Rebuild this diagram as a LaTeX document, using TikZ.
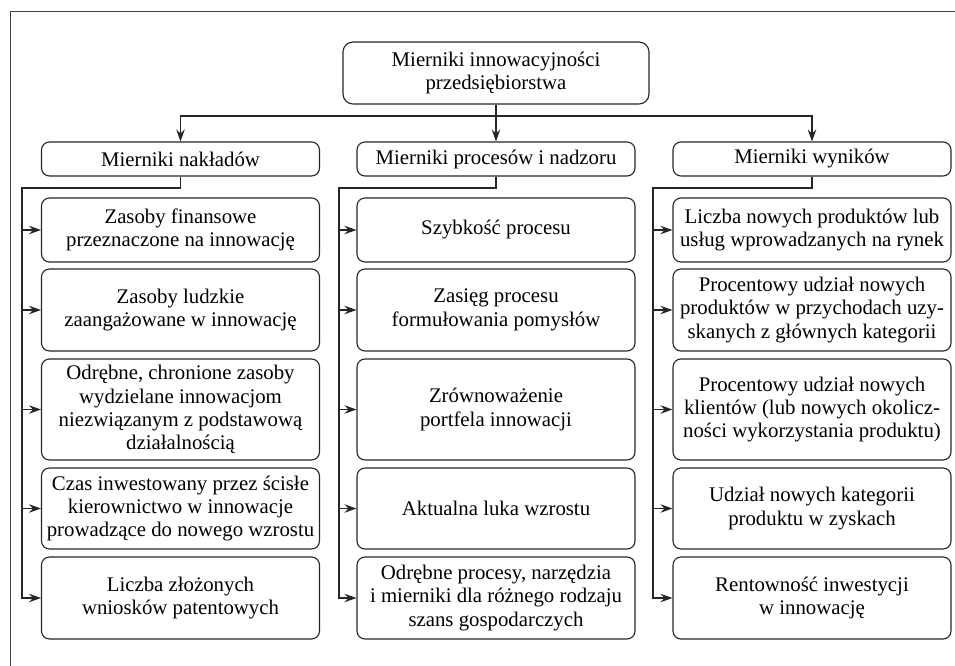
\documentclass[tikz,border=0pt]{standalone}
\usepackage{fontspec}
\setmainfont{Liberation Serif}
\newfontfamily\tms{Liberation Serif}
\usetikzlibrary{arrows.meta,positioning}
\tikzset{
  ln/.style={line width=1.1pt,black!85},
  ar/.style={ln,-{Stealth[length=12pt,width=8.5pt,inset=4pt]}},
  box/.style={draw=black!85,line width=1.1pt,rounded corners=8pt,align=center,
    inner sep=2pt,minimum width=278pt,font=\tms\fontsize{20.8}{23.3}\selectfont},
  head/.style={box,minimum height=34pt}
}
\begin{document}
\begin{tikzpicture}[x=1pt,y=-1pt]
\useasboundingbox (0,0) rectangle (955,666);
% ramka
\draw[line width=1pt,black!75] (10,666) -- (10,11.5) -- (955,11.5);
% poziom 1 i 2
\node[box,minimum width=306pt,minimum height=62pt,rounded corners=10pt] (top) at (496,73) {Mierniki innowacyjności\\przedsiębiorstwa};
\node[head] (nak) at (180.5,159) {Mierniki nakładów};
\node[head] (proc) at (496,159) {Mierniki procesów i nadzoru};
\node[head] (wyn) at (812,159) {Mierniki wyników};
\coordinate (bar) at (0,116);
\draw[ar] (top.south) -- (top.south |- bar) -| (nak.north);
\draw[ar] (top.south |- bar) -| (wyn.north);
\draw[ar] (top.south) -- (proc.north);
% mierniki nakładów
\node[box,minimum height=64pt] (n1) at (180.5,230) {Zasoby finansowe\\przeznaczone na innowację};
\node[box,minimum height=82pt] (n2) at (180.5,310) {Zasoby ludzkie\\zaangażowane w innowację};
\node[box,minimum height=101pt] (n3) at (180.5,409.5) {Odrębne, chronione zasoby\\wydzielane innowacjom\\niezwiązanym z podstawową\\działalnością};
\node[box,minimum height=81pt] (n4) at (180.5,508.5) {Czas inwestowany przez ścisłe\\kierownictwo w innowacje\\prowadzące do nowego wzrostu};
\node[box,minimum height=82pt] (n5) at (180.5,598) {Liczba złożonych\\wniosków patentowych};
% mierniki procesów
\node[box,minimum height=64pt] (p1) at (496,230) {Szybkość procesu};
\node[box,minimum height=82pt] (p2) at (496,310) {Zasięg procesu\\formułowania pomysłów};
\node[box,minimum height=101pt] (p3) at (496,409.5) {Zrównoważenie\\portfela innowacji};
\node[box,minimum height=81pt] (p4) at (496,508.5) {Aktualna luka wzrostu};
\node[box,minimum height=82pt] (p5) at (496,598) {Odrębne procesy, narzędzia\\i mierniki dla różnego rodzaju\\szans gospodarczych};
% mierniki wyników
\node[box,minimum height=64pt] (w1) at (812,230) {Liczba nowych produktów lub\\usług wprowadzanych na rynek};
\node[box,minimum height=82pt] (w2) at (812,310) {Procentowy udział nowych\\produktów w przychodach uzy-\\skanych z głównych kategorii};
\node[box,minimum height=101pt] (w3) at (812,409.5) {Procentowy udział nowych\\klientów (lub nowych okolicz-\\ności wykorzystania produktu)};
\node[box,minimum height=81pt] (w4) at (812,508.5) {Udział nowych kategorii\\produktu w zyskach};
\node[box,minimum height=82pt] (w5) at (812,598) {Rentowność inwestycji\\w innowację};
% szyny
\coordinate (kn) at (22,188);
\coordinate (kp) at (339,188);
\coordinate (kw) at (653,188);
\draw[ar] (nak.south) |- (kn) |- (n5.west);
\draw[ar] (proc.south) |- (kp) |- (p5.west);
\draw[ar] (wyn.south) |- (kw) |- (w5.west);
\foreach \i in {1,...,4}{
  \draw[ar] (kn |- n\i.west) -- (n\i.west);
  \draw[ar] (kp |- p\i.west) -- (p\i.west);
  \draw[ar] (kw |- w\i.west) -- (w\i.west);
}
\end{tikzpicture}
\end{document}
